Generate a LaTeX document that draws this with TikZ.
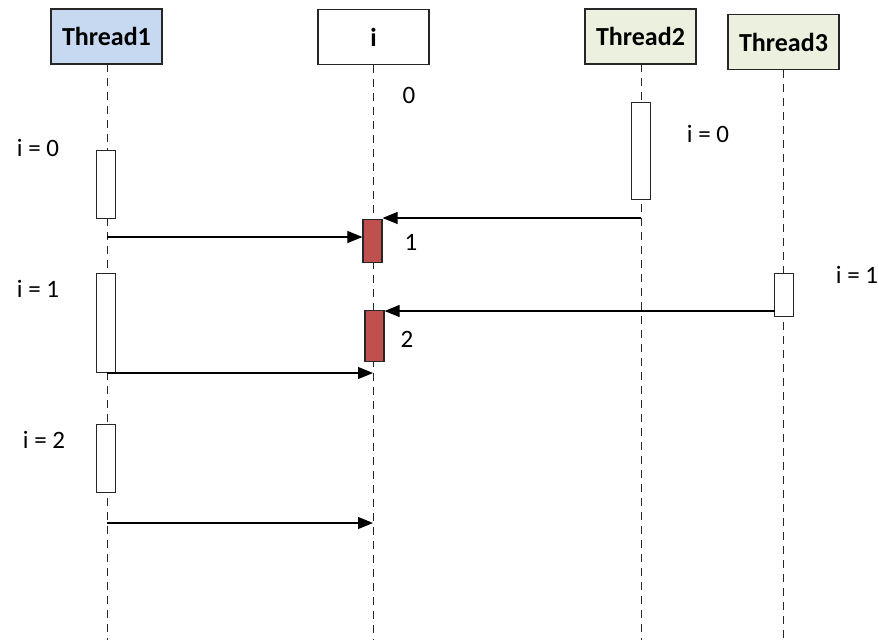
\documentclass[tikz,border=0pt]{standalone}
\usepackage{fontspec}
\setmainfont{Carlito}
\usetikzlibrary{arrows.meta}
\definecolor{hdrblue}{HTML}{C6D9F1}
\definecolor{hdrgreen}{HTML}{EBF1DE}
\definecolor{actred}{HTML}{C0504D}
\definecolor{edge}{HTML}{262626}
\tikzset{
  header/.style={draw=edge, line width=1.4pt, minimum width=111pt, minimum height=55pt,
    inner sep=0pt, font=\fontsize{26}{26}\selectfont\bfseries},
  lifeline/.style={draw=edge, line width=0.9pt, dash pattern=on 8pt off 6pt},
  actbox/.style={draw=edge, line width=1.2pt, fill=white, minimum width=19pt, inner sep=0pt},
  hotbox/.style={actbox, fill=actred},
  msg/.style={draw=black, line width=1.1pt, -{Triangle[length=15pt,width=12pt]}},
  note/.style={font=\fontsize{25}{25}\selectfont, inner sep=0pt}
}
\begin{document}
\begin{tikzpicture}[x=1pt,y=-1pt]
\useasboundingbox (0,0) rectangle (879,640);

% lifelines
\draw[lifeline] (107,64) -- (107,640);
\draw[lifeline] (373,65) -- (373,640);
\draw[lifeline] (641,64) -- (641,640);
\draw[lifeline] (783,70) -- (783,640);

% participant headers
\node[header, fill=hdrblue]  (t1) at (106.5,36.5) {Thread1};
\node[header, fill=white]    (iv) at (373.5,37)   {i};
\node[header, fill=hdrgreen] (t2) at (640.5,36.5) {Thread2};
\node[header, fill=hdrgreen] (t3) at (783.5,42)   {Thread3};

% activation bars
\node[actbox, minimum height=68pt, anchor=north] (a1) at (106,150) {};
\node[actbox, minimum height=99pt, anchor=north] (a2) at (106,273) {};
\node[actbox, minimum height=68pt, anchor=north] (a3) at (106,424) {};
\node[actbox, minimum height=97pt, anchor=north] (b1) at (641,102) {};
\node[actbox, minimum height=43pt, anchor=north] (c1) at (784,273) {};
\node[hotbox, minimum height=43pt, anchor=north] (r1) at (372.5,219) {};
\node[hotbox, minimum height=51pt, anchor=north] (r2) at (374.5,310) {};

% message end points
\coordinate (m1s) at (107,237);
\coordinate (m2s) at (641,218);
\coordinate (m3s) at (775,311);
\coordinate (m4s) at (107,373);
\coordinate (m4e) at (373,373);
\coordinate (m5s) at (107,523);
\coordinate (m5e) at (373,523);

% messages
\draw[msg] (m1s) -- (m1s -| r1.west);
\draw[msg] (m2s) -- (m2s -| r1.east);
\draw[msg] (m3s) -- (m3s -| r2.east);
\draw[msg] (m4s) -- (m4e);
\draw[msg] (m5s) -- (m5e);

% values
\node[note] (v0)  at (409,95)  {0};
\node[note] (v1)  at (411,242) {1};
\node[note] (v2)  at (407,339) {2};
\node[note] (n1)  at (38,148)  {i = 0};
\node[note] (n2)  at (38,289)  {i = 1};
\node[note] (n3)  at (44,440)  {i = 2};
\node[note] (n4)  at (708,134) {i = 0};
\node[note] (n5)  at (857,275) {i = 1};
\end{tikzpicture}
\end{document}
